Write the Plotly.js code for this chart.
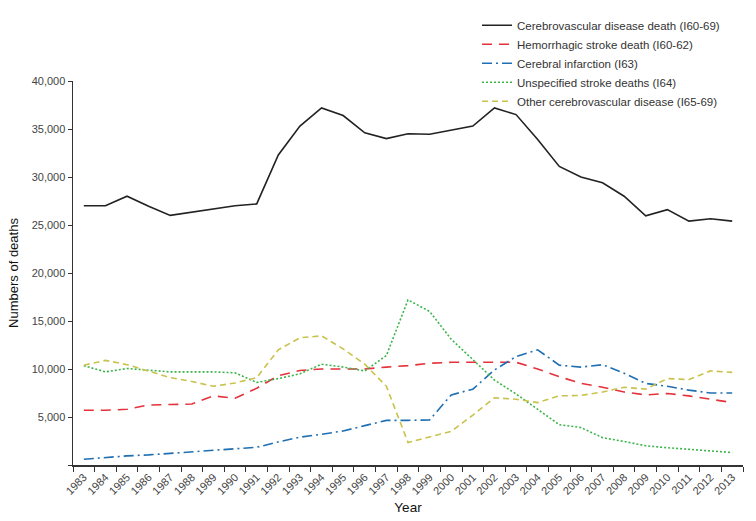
<!DOCTYPE html>
<html>
<head>
<meta charset="utf-8">
<script src="https://cdn.plot.ly/plotly-3.0.1.min.js"></script>
<style>html,body{margin:0;padding:0;background:#fff;}#chart{width:756px;height:521px;}</style>
</head>
<body>
<div id="chart"></div>
<script>
const years = ["1983","1984","1985","1986","1987","1988","1989","1990","1991","1992","1993","1994","1995","1996","1997","1998","1999","2000","2001","2002","2003","2004","2005","2006","2007","2008","2009","2010","2011","2012","2013"];

const cerebrovascular = [27000,27000,28000,26950,26000,26350,26700,27000,27200,32300,35300,37200,36400,34600,34000,34500,34450,34900,35300,37200,36500,33900,31100,30000,29400,28000,25950,26600,25400,25650,25400];
const hemorrhagic = [5700,5700,5800,6250,6300,6350,7200,6950,8000,9300,9850,10000,10000,10000,10200,10350,10600,10700,10700,10700,10700,10000,9200,8500,8100,7600,7300,7450,7200,6850,6500];
const infarction = [600,800,950,1050,1200,1350,1500,1650,1850,2400,2900,3200,3550,4100,4650,4650,4700,7300,7900,9900,11300,12000,10400,10200,10450,9550,8500,8200,7800,7500,7500];
const unspecified = [10350,9700,10050,9900,9700,9700,9700,9600,8600,9000,9500,10500,10200,9800,11400,17200,16000,13100,11000,8850,7400,5800,4200,3900,2850,2450,2000,1800,1650,1450,1300];
const otherCV = [10400,10900,10450,9800,9100,8700,8200,8550,9100,12000,13250,13450,12100,10500,8200,2350,2900,3500,5200,7000,6850,6500,7200,7250,7600,8100,7900,9000,8900,9800,9650];

const names = ["Cerebrovascular disease death (I60-69)","Hemorrhagic stroke death (I60-62)","Cerebral infarction (I63)","Unspecified stroke deaths (I64)","Other cerebrovascular disease (I65-69)"];
const yTickVals = [0,5000,10000,15000,20000,25000,30000,35000,40000];
const yTickText = ["","5,000","10,000","15,000","20,000","25,000","30,000","35,000","40,000"];

const series = [cerebrovascular, hemorrhagic, infarction, unspecified, otherCV];
const colors = ["#222222","#e3323b","#1f6fb2","#3bb54a","#c9c24c"];
const dashes = ["solid","10px,7px","10px,4px,2px,4px","2px,2px","6px,4px"];

const traces = series.map((s,i)=>({
  type:"scatter", mode:"lines", x:years, y:s, name:names[i],
  line:{color:colors[i], width:1.6, dash:dashes[i]}
}));

const layout = {
  width:756, height:521,
  margin:{l:73, r:13, t:80, b:56},
  paper_bgcolor:"#fff", plot_bgcolor:"#fff",
  font:{family:"Liberation Sans, Arial, sans-serif", size:11, color:"#444"},
  showlegend:true,
  legend:{x:0.603, xanchor:"left", y:1.18, yanchor:"top", bgcolor:"rgba(0,0,0,0)",
    font:{size:11.5, color:"#333"}, tracegroupgap:0},
  xaxis:{type:"category", range:[-0.5,30.5], tickson:"boundaries", ticks:"outside", ticklen:5,
    tickcolor:"#333", showline:true, linecolor:"#333", linewidth:1.5, showgrid:false, zeroline:false,
    tickangle:-45, tickfont:{size:11, color:"#444"},
    title:{text:"Year", font:{size:13.5, color:"#111"}, standoff:6}},
  yaxis:{range:[0,40000], tickvals:yTickVals, ticktext:yTickText, ticks:"outside", ticklen:4,
    tickcolor:"#333", showline:true, linecolor:"#333", linewidth:1.5, showgrid:false, zeroline:false,
    tickfont:{size:11, color:"#444"},
    title:{text:"Numbers of deaths", font:{size:13, color:"#111"}, standoff:10}}
};

Plotly.newPlot("chart", traces, layout, {displayModeBar:false, staticPlot:true});
</script>
</body>
</html>
